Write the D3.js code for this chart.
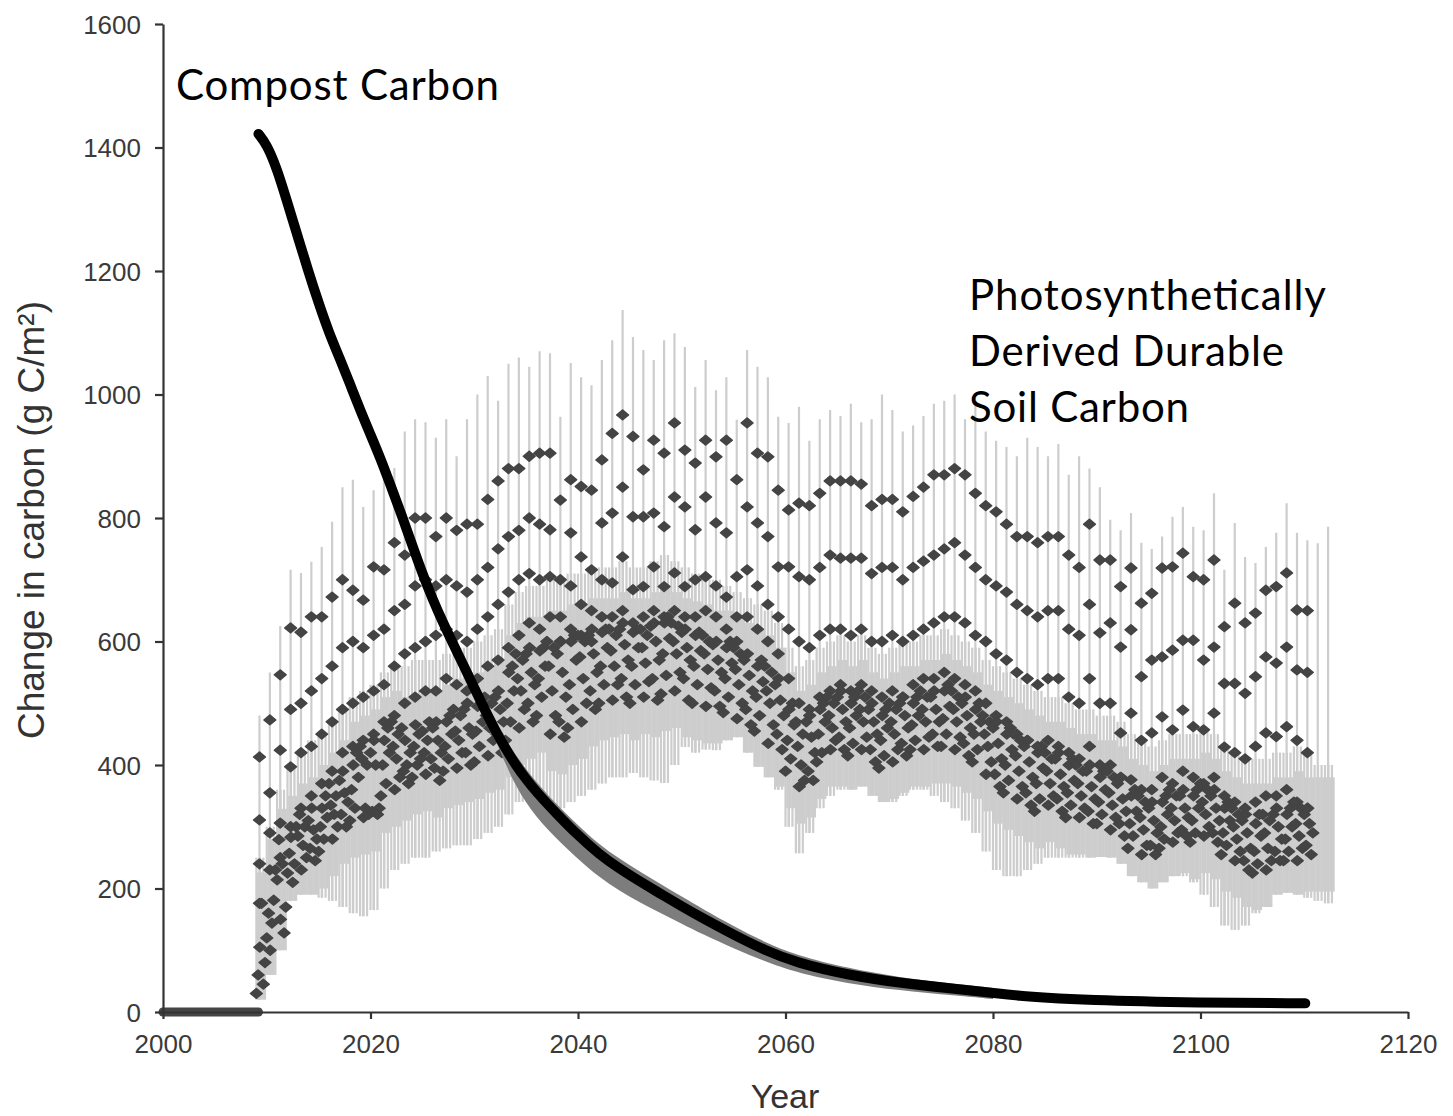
<!DOCTYPE html>
<html><head><meta charset="utf-8">
<script src="https://cdn.jsdelivr.net/npm/d3@7"></script>
<style>body{margin:0;background:#fff} svg{display:block}</style>
</head><body>
<svg id="chart" width="1453" height="1116"></svg>
<script>
// ---------- DATA ----------
const xTicks = [2000, 2020, 2040, 2060, 2080, 2100, 2120];
const yTicks = [0, 200, 400, 600, 800, 1000, 1200, 1400, 1600];

// Compost carbon (black curve)
const compostYears = [2009.2, 2010, 2011, 2012, 2013, 2014, 2015, 2016, 2017, 2018, 2019, 2020, 2021, 2022, 2023, 2024, 2025, 2026, 2027, 2028, 2029, 2030, 2031, 2032, 2033, 2034, 2035, 2036, 2038, 2040, 2042, 2044, 2046, 2048, 2050, 2052, 2055, 2058, 2061, 2066, 2071, 2076, 2080, 2083, 2089, 2100, 2110.1];
const compostValues = [1422, 1405, 1365, 1310, 1255, 1200, 1148, 1100, 1060, 1018, 975, 935, 895, 850, 805, 757, 710, 668, 630, 595, 560, 525, 490, 457, 427, 400, 377, 356, 320, 286, 256, 232, 211, 191, 171, 152, 125, 100, 80, 60, 47, 38, 31, 25, 19, 15, 14];

// Compost uncertainty band (grey)
const bandYears = [2031, 2033, 2035, 2037, 2040, 2042, 2044, 2046, 2048, 2050, 2052, 2055, 2058, 2061, 2066, 2071, 2076, 2080];
const bandHigh = [500, 440, 392, 352, 302, 272, 248, 227, 207, 187, 167, 139, 113, 92, 71, 56, 46, 39];
const bandLow  = [488, 398, 336, 296, 247, 219, 196, 177, 160, 143, 126, 103, 82, 64, 46, 35, 27, 21];

// Zero line before application
const baselineYears = [2000, 2009.2];
const baselineValues = [0, 0];

// Photosynthetically derived durable soil carbon, yearly upper dots (2009-2110)
const upper1 = [413, 473, 546, 622, 615, 640, 640, 672, 700, 683,
  667, 721, 716, 760, 740, 800, 800, 770, 800, 780,
  790, 790, 830, 860, 880, 880, 900, 905, 905, 829,
  862, 851, 845, 894, 937, 967, 932, 878, 926, 905,
  954, 910, 889, 926, 899, 926, 862, 954, 905, 899,
  845, 813, 824, 820, 840, 860, 860, 860, 855, 820,
  830, 830, 810, 835, 850, 870, 870, 880, 870, 840,
  820, 810, 790, 770, 770, 760, 770, 770, 740, 720,
  790, 732, 732, 689, 719, 662, 678, 719, 721, 743,
  705, 700, 732, 624, 662, 630, 646, 683, 689, 711,
  651, 650];
const upper2 = [311, 355, 424, 490, 500, 520, 540, 560, 590, 600,
  590, 610, 620, 650, 660, 690, 700, 690, 700, 690,
  680, 700, 720, 750, 770, 780, 800, 790, 781, 700,
  776, 737, 716, 792, 808, 850, 802, 802, 808, 786,
  834, 818, 781, 834, 792, 776, 705, 818, 792, 770,
  721, 721, 705, 700, 720, 740, 735, 735, 735, 710,
  720, 720, 700, 720, 730, 740, 750, 760, 740, 720,
  700, 690, 680, 660, 650, 640, 650, 650, 620, 610,
  660, 614, 630, 591, 619, 543, 570, 575, 586, 602,
  602, 570, 591, 532, 532, 516, 543, 575, 565, 591,
  554, 550];
const upper3 = [240, 290, 306, 397, 420, 430, 450, 470, 490, 500,
  510, 520, 530, 560, 580, 590, 600, 610, 620, 610,
  600, 620, 640, 660, 680, 700, 710, 700, 705, 640,
  690, 660, 650, 700, 695, 737, 684, 689, 721, 689,
  711, 689, 700, 705, 690, 672, 640, 716, 690, 660,
  640, 620, 600, 590, 610, 620, 620, 610, 620, 600,
  600, 610, 600, 610, 620, 630, 640, 640, 630, 610,
  600, 580, 570, 550, 540, 530, 540, 540, 510, 500,
  540, 500, 500, 452, 484, 440, 452, 478, 457, 489,
  462, 457, 484, 429, 420, 410, 430, 452, 446, 462,
  440, 420];
const upper4 = [176, 230, 250, 300, 330, 350, 370, 390, 420, 430,
  440, 450, 470, 480, 500, 510, 520, 520, 540, 530,
  520, 540, 560, 570, 590, 610, 630, 620, 640, 600,
  620, 610, 600, 640, 640, 650, 630, 640, 650, 640,
  650, 640, 640, 650, 640, 620, 600, 640, 620, 600,
  580, 540, 500, 490, 510, 520, 530, 520, 530, 520,
  510, 520, 510, 530, 540, 540, 550, 540, 530, 520,
  500, 480, 470, 450, 440, 430, 440, 430, 420, 410,
  430, 400, 400, 380, 376, 360, 360, 380, 370, 390,
  380, 370, 380, 350, 340, 330, 340, 350, 350, 360,
  340, 330];

// Dense lower cluster, six values per year (2009-2110)
const clusterValues = [
  [30, 60, 105, 176, 45, 80], [100, 144, 181, 230, 120, 160], [128, 170, 214, 279, 150, 240],
  [225, 257, 283, 210, 240, 300], [230, 270, 300, 250, 285, 320], [245, 280, 310, 265, 330, 295],
  [260, 300, 330, 280, 350, 315], [280, 320, 350, 300, 370, 335], [300, 340, 375, 320, 390, 355],
  [310, 360, 400, 330, 420, 380], [315, 330, 400, 320, 430, 410], [320, 330, 420, 325, 440, 400],
  [350, 400, 440, 370, 460, 420], [360, 410, 450, 380, 470, 430], [370, 420, 460, 390, 440, 400],
  [380, 430, 465, 400, 450, 410], [385, 440, 470, 410, 455, 420], [375, 420, 460, 395, 470, 440],
  [390, 430, 470, 410, 480, 450], [395, 440, 480, 420, 490, 455], [400, 450, 490, 420, 500, 460],
  [405, 455, 495, 430, 500, 470], [415, 460, 500, 440, 510, 480], [420, 470, 510, 450, 520, 490],
  [440, 500, 550, 470, 560, 520], [460, 520, 570, 490, 580, 540], [470, 530, 580, 500, 590, 550],
  [480, 540, 585, 510, 590, 560], [450, 520, 590, 480, 600, 560], [445, 510, 580, 470, 600, 550],
  [460, 530, 600, 490, 610, 570], [470, 540, 600, 500, 610, 575], [490, 550, 610, 520, 620, 580],
  [500, 560, 615, 530, 620, 590], [505, 560, 610, 530, 620, 585], [510, 570, 620, 540, 630, 595],
  [500, 560, 615, 530, 620, 590], [510, 565, 610, 535, 620, 590], [505, 570, 625, 540, 630, 600],
  [515, 580, 630, 545, 640, 605], [520, 580, 625, 550, 630, 600], [505, 570, 615, 540, 620, 590],
  [500, 560, 610, 530, 615, 585], [495, 555, 600, 525, 610, 580], [495, 550, 595, 520, 600, 570],
  [485, 540, 590, 510, 600, 565], [475, 530, 580, 500, 590, 555], [465, 520, 570, 490, 580, 545],
  [455, 510, 560, 480, 570, 535], [435, 500, 550, 465, 560, 520], [425, 480, 530, 450, 540, 505],
  [390, 440, 490, 410, 500, 465], [365, 400, 450, 375, 470, 430], [375, 420, 470, 390, 480, 445],
  [405, 450, 490, 420, 500, 470], [425, 460, 500, 440, 510, 480], [425, 470, 510, 445, 520, 490],
  [415, 460, 500, 435, 510, 480], [425, 470, 510, 445, 520, 490], [405, 450, 490, 425, 500, 470],
  [395, 440, 480, 415, 490, 460], [405, 450, 490, 425, 500, 470], [415, 460, 500, 435, 510, 480],
  [425, 465, 500, 440, 510, 480], [425, 470, 510, 445, 520, 490], [430, 470, 510, 450, 520, 490],
  [430, 475, 520, 450, 530, 495], [425, 470, 510, 445, 520, 490], [415, 460, 500, 435, 510, 480],
  [405, 450, 490, 425, 500, 470], [385, 430, 470, 405, 480, 450], [365, 410, 460, 385, 470, 435],
  [355, 400, 450, 375, 460, 425], [345, 390, 440, 365, 450, 415], [335, 380, 430, 355, 440, 405],
  [325, 370, 420, 345, 430, 395], [335, 370, 410, 350, 420, 390], [325, 365, 410, 345, 420, 385],
  [315, 355, 400, 335, 410, 375], [315, 350, 390, 330, 400, 370], [305, 345, 390, 325, 400, 365],
  [305, 340, 380, 320, 390, 360], [295, 335, 380, 315, 390, 355], [285, 325, 370, 305, 380, 345],
  [265, 305, 350, 285, 360, 325], [255, 295, 340, 270, 350, 315], [255, 290, 330, 270, 340, 310],
  [265, 300, 340, 280, 350, 320], [275, 310, 350, 290, 360, 330], [285, 315, 350, 295, 360, 330],
  [275, 310, 350, 290, 360, 330], [285, 320, 360, 300, 370, 340], [275, 310, 350, 290, 360, 330],
  [255, 290, 330, 270, 340, 310], [245, 280, 320, 260, 330, 300], [230, 265, 310, 245, 320, 290],
  [225, 260, 305, 240, 320, 285], [230, 265, 310, 245, 320, 290], [245, 280, 320, 260, 330, 300],
  [245, 280, 320, 260, 330, 300], [245, 285, 330, 265, 340, 305], [255, 290, 320, 270, 330, 305]
];

// Error bars (2009-2112): top of the tall yearly bar, bottom and top of the dense bars
const barTop = [480, 550, 625, 716, 711, 729, 753, 794, 850, 862,
  818, 845, 862, 881, 940, 960, 955, 930, 960, 900,
  960, 1000, 1030, 990, 1050, 1060, 1045, 1070, 1067, 964,
  1051, 1028, 1015, 1056, 1088, 1137, 1093, 1072, 1056, 1088,
  1099, 1077, 1012, 1056, 1007, 1028, 959, 1072, 1045, 1028,
  964, 954, 980, 925, 960, 975, 965, 985, 955, 960,
  1000, 975, 940, 950, 965, 985, 990, 1000, 960, 990,
  940, 925, 915, 900, 930, 915, 900, 920, 870, 900,
  880, 850, 797, 780, 808, 760, 750, 770, 802, 818,
  786, 780, 840, 716, 792, 737, 727, 753, 776, 824,
  776, 764, 759, 786];
const barLow = [20, 60, 100, 180, 190, 190, 185, 180, 170, 160,
  155, 165, 200, 230, 240, 250, 250, 260, 265, 270,
  270, 280, 290, 300, 320, 340, 350, 350, 340, 330,
  340, 350, 360, 370, 380, 380, 387, 380, 375, 371,
  400, 429, 420, 425, 424, 440, 445, 420, 397, 380,
  360, 300, 257, 290, 330, 350, 360, 360, 365, 350,
  340, 340, 350, 360, 360, 350, 340, 330, 310, 290,
  260, 230, 220, 220, 230, 240, 250, 250, 250, 250,
  250, 251, 250, 240, 220, 210, 200, 210, 220, 220,
  210, 190, 170, 140, 133, 140, 160, 170, 190, 193,
  190, 185, 180, 176];
const barHigh = [250, 300, 360, 400, 420, 440, 450, 470, 490, 510,
  520, 530, 550, 560, 560, 570, 570, 570, 580, 590,
  590, 600, 610, 620, 660, 680, 690, 690, 700, 700,
  710, 710, 720, 720, 720, 730, 720, 720, 730, 740,
  730, 720, 710, 700, 700, 690, 680, 670, 660, 650,
  630, 590, 560, 570, 590, 600, 610, 600, 610, 590,
  580, 590, 600, 600, 610, 610, 620, 610, 600, 590,
  570, 560, 550, 540, 530, 520, 510, 510, 500, 490,
  490, 480, 480, 470, 450, 440, 430, 440, 450, 450,
  450, 460, 450, 430, 420, 410, 410, 410, 420, 420,
  430, 420, 400, 400];

const dotYears = d3.range(2009, 2111);
const barYears = d3.range(2009, 2113);
const clusterOffsets = [0.0, 0.17, 0.33, 0.5, 0.67, 0.83];
const upperOffset = 0.3;

// ---------- CHART ----------
const svg = d3.select('#chart');
const x = d3.scaleLinear().domain([2000, 2120]).range([163, 1408]);
const y = d3.scaleLinear().domain([0, 1600]).range([1012, 24]);

// error bars
const bars = [];
barYears.forEach((yr, i) => {
  const cl = clusterValues[Math.min(i, clusterValues.length - 1)];
  const cMin = d3.min(cl), cMax = d3.max(cl);
  clusterOffsets.forEach((o, k) => {
    if (k % 2 === 0) bars.push({t: yr + o, lo: barLow[i], hi: barHigh[i]});
    else bars.push({t: yr + o, lo: Math.max(barLow[i], cMin - 60), hi: Math.min(barHigh[i], cMax + 50)});
  });
  bars.push({t: yr + upperOffset, lo: barLow[i], hi: barTop[i]});
});
svg.append('g').selectAll('line').data(bars).join('line')
  .attr('x1', d => x(d.t)).attr('x2', d => x(d.t))
  .attr('y1', d => y(d.lo)).attr('y2', d => y(d.hi))
  .attr('stroke', '#cdcdcd').attr('stroke-width', 2.2);

// baseline zero series
svg.append('path')
  .attr('d', d3.line().x((d, i) => x(baselineYears[i])).y(d => y(d))(baselineValues))
  .attr('stroke', '#454545').attr('stroke-width', 9).attr('fill', 'none').attr('stroke-linecap', 'round');

// dots
const dots = [];
dotYears.forEach((yr, i) => {
  [upper1, upper2, upper3, upper4].forEach(arr => dots.push({t: yr + upperOffset, v: arr[i]}));
  clusterValues[i].forEach((v, k) => dots.push({t: yr + clusterOffsets[(k + 2 * i) % 6], v: v}));
});
const sym = d3.symbol().type(d3.symbolSquare).size(62)();
svg.append('g').selectAll('path').data(dots).join('path')
  .attr('d', sym)
  .attr('transform', d => `translate(${x(d.t)},${y(d.v)}) scale(1.05,0.88) rotate(45)`)
  .attr('fill', '#444').attr('stroke', '#444').attr('stroke-width', 1.6).attr('stroke-linejoin', 'round');

// compost band + curve
svg.append('path')
  .attr('d', d3.area().x((d, i) => x(bandYears[i])).y0((d, i) => y(bandLow[i])).y1(d => y(d)).curve(d3.curveBasis)(bandHigh))
  .attr('fill', '#7d7d7d');
svg.append('path')
  .attr('d', d3.line().x((d, i) => x(compostYears[i])).y(d => y(d)).curve(d3.curveBasis)(compostValues))
  .attr('stroke', '#000').attr('stroke-width', 10).attr('fill', 'none').attr('stroke-linecap', 'round');

// axes
const fontAx = "'Liberation Sans', Arial, sans-serif";
const yAxis = svg.append('g').attr('transform', 'translate(163,0)')
  .call(d3.axisLeft(y).tickValues(yTicks).tickFormat(d3.format('d')).tickSize(8).tickSizeOuter(0).tickPadding(14));
const xAxis = svg.append('g').attr('transform', 'translate(0,1012)')
  .call(d3.axisBottom(x).tickValues(xTicks).tickFormat(d3.format('d')).tickSize(7).tickSizeOuter(0).tickPadding(16));
[yAxis, xAxis].forEach(g => {
  g.select('.domain').attr('stroke', '#333').attr('stroke-width', 2.2);
  g.selectAll('.tick line').attr('stroke', '#333').attr('stroke-width', 2.2);
  g.selectAll('.tick text').attr('font-family', fontAx).attr('font-size', 26).attr('fill', '#3a3a3a');
});
yAxis.selectAll('.tick text').attr('dy', '0.36em');

svg.append('text').attr('x', 785).attr('y', 1108).attr('text-anchor', 'middle')
  .attr('font-family', fontAx).attr('font-size', 34).attr('fill', '#333').text('Year');
svg.append('text').attr('transform', 'translate(44,520) rotate(-90)').attr('text-anchor', 'middle')
  .attr('font-family', fontAx).attr('font-size', 37).attr('fill', '#333').text('Change in carbon (g C/m²)');

// annotations
const fontAnn = "Lato, 'Open Sans', sans-serif";
svg.append('text').attr('x', 176).attr('y', 100).attr('font-family', fontAnn).attr('font-size', 42)
  .attr('textLength', 323).attr('lengthAdjust', 'spacing').text('Compost Carbon');
[['Photosynthetically', 310, 357], ['Derived Durable', 366, 315], ['Soil Carbon', 422, 220]].forEach(([t, by, w]) => {
  svg.append('text').attr('x', 969).attr('y', by).attr('font-family', fontAnn).attr('font-size', 42)
    .attr('textLength', w).attr('lengthAdjust', 'spacing').text(t);
});
</script>
</body></html>
